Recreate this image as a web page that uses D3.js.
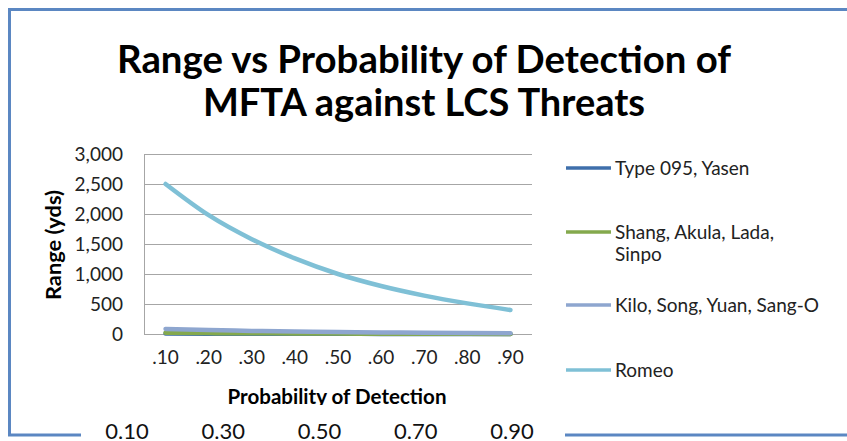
<!DOCTYPE html>
<html>
<head>
<meta charset="utf-8">
<script src="https://cdn.jsdelivr.net/npm/d3@7"></script>
<style>
  body { margin: 0; background: #fff; }
  svg { display: block; font-family: Lato, "Open Sans", sans-serif; }
</style>
</head>
<body>
<div id="chart"></div>
<script>
// chart data
const categories = [".10", ".20", ".30", ".40", ".50", ".60", ".70", ".80", ".90"];
const seriesNames = [["Type 095, Yasen"], ["Shang, Akula, Lada,", "Sinpo"], ["Kilo, Song, Yuan, Sang-O"], ["Romeo"]];
const type095 = [8, 6, 5, 4, 3, 2, 2, 1, 1];
const shang = [20, 15, 12, 9, 7, 5, 4, 3, 2];
const kilo = [85, 65, 52, 42, 33, 26, 20, 16, 12];
const romeo = [2500, 1980, 1580, 1260, 1000, 800, 640, 510, 400];
const yTicks = [0, 500, 1000, 1500, 2000, 2500, 3000];
const bottomLabels = ["0.10", "0.30", "0.50", "0.70", "0.90"];
const colors = ["#3f6fab", "#84a94d", "#8ea6cf", "#7fc0d6"];

const W = 847, H = 441;
const plot = { left: 144, right: 532, top: 154, bottom: 334 };

const svg = d3.select("#chart").append("svg")
    .attr("width", W)
    .attr("height", H);

// the axis title is clipped at the bottom in the original
svg.append("clipPath").attr("id", "clipX")
  .append("rect").attr("x", 0).attr("y", 0).attr("width", W).attr("height", 405);

// outer frame
svg.append("rect")
    .attr("x", 9.5).attr("y", 9.5)
    .attr("width", 900).attr("height", 425.5)
    .attr("fill", "none")
    .attr("stroke", "#5b87c2")
    .attr("stroke-width", 3);

// title
svg.append("text")
    .attr("x", 424).attr("y", 73)
    .attr("text-anchor", "middle")
    .attr("font-weight", "bold")
    .attr("font-size", 38)
    .attr("textLength", 614)
    .attr("lengthAdjust", "spacingAndGlyphs")
    .text("Range vs Probability of Detection of");
svg.append("text")
    .attr("x", 424).attr("y", 116)
    .attr("text-anchor", "middle")
    .attr("font-weight", "bold")
    .attr("font-size", 38)
    .text("MFTA against LCS Threats");

const x = d3.scaleBand().domain(categories).range([plot.left, plot.right]);
const y = d3.scaleLinear().domain([0, 3000]).range([plot.bottom, plot.top]);

// gridlines
svg.append("g")
    .selectAll("line")
    .data(yTicks)
  .enter().append("line")
    .attr("x1", plot.left).attr("x2", plot.right)
    .attr("y1", d => Math.round(y(d)) + 0.5)
    .attr("y2", d => Math.round(y(d)) + 0.5)
    .attr("stroke", "#a6a6a6");

svg.append("line")
    .attr("x1", plot.left + 0.5).attr("x2", plot.left + 0.5)
    .attr("y1", plot.top).attr("y2", plot.bottom + 1)
    .attr("stroke", "#a6a6a6");

// y tick labels
svg.append("g")
    .selectAll("text")
    .data(yTicks)
  .enter().append("text")
    .attr("x", 123)
    .attr("y", d => y(d))
    .attr("dy", "0.35em")
    .attr("text-anchor", "end")
    .attr("font-size", 19)
    .attr("fill", "#222")
    .text(d3.format(","));

// x tick labels
svg.append("g")
    .selectAll("text")
    .data(categories)
  .enter().append("text")
    .attr("x", d => x(d) + x.bandwidth() / 2)
    .attr("y", 357)
    .attr("dy", "0.35em")
    .attr("text-anchor", "middle")
    .attr("font-size", 19)
    .attr("fill", "#222")
    .text(d => d);

// axis titles
svg.append("text")
    .attr("clip-path", "url(#clipX)")
    .attr("x", 337).attr("y", 404)
    .attr("text-anchor", "middle")
    .attr("font-weight", "bold")
    .attr("font-size", 20)
    .attr("textLength", 219)
    .attr("lengthAdjust", "spacingAndGlyphs")
    .text("Probability of Detection");

svg.append("text")
    .attr("transform", "translate(61,245) rotate(-90)")
    .attr("text-anchor", "middle")
    .attr("font-weight", "bold")
    .attr("font-size", 20)
    .attr("textLength", 110)
    .attr("lengthAdjust", "spacingAndGlyphs")
    .text("Range (yds)");

// series lines
const line = d3.line()
    .x((d, i) => x(categories[i]) + x.bandwidth() / 2)
    .y(d => y(d))
    .curve(d3.curveMonotoneX);

[type095, shang, kilo, romeo].forEach((s, i) => {
    svg.append("path")
        .datum(s)
        .attr("d", line)
        .attr("fill", "none")
        .attr("stroke", colors[i])
        .attr("stroke-width", 4.5)
        .attr("stroke-linecap", "round");
});

// legend
const legendY = [168, 232, 305, 370];
seriesNames.forEach((lines, i) => {
    svg.append("line")
        .attr("x1", 566).attr("x2", 611)
        .attr("y1", legendY[i]).attr("y2", legendY[i])
        .attr("stroke", colors[i])
        .attr("stroke-width", 3.5);
    lines.forEach((t, j) => {
        svg.append("text")
            .attr("x", 615)
            .attr("y", legendY[i] + j * 22)
            .attr("dy", "0.35em")
            .attr("font-size", 19)
            .attr("fill", "#222")
            .text(t);
    });
});

// stray label strip over the bottom frame
svg.append("rect")
    .attr("x", 81).attr("y", 426)
    .attr("width", 484).attr("height", 15)
    .attr("fill", "#fff");

const bx = d3.scalePoint().domain(bottomLabels).range([127, 512]);
svg.append("g")
    .selectAll("text")
    .data(bottomLabels)
  .enter().append("text")
    .attr("x", d => bx(d))
    .attr("y", 439)
    .attr("text-anchor", "middle")
    .attr("font-size", 22)
    .attr("fill", "#111")
    .text(d => d);
</script>
</body>
</html>
